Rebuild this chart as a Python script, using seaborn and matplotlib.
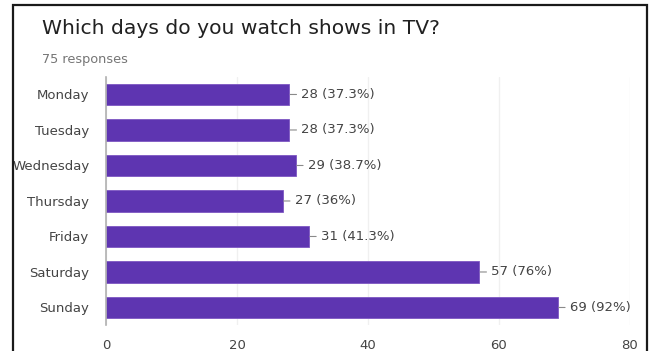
import matplotlib
matplotlib.use("Agg")
import matplotlib.pyplot as plt
import seaborn as sns
import pandas as pd
from matplotlib.patches import Rectangle

days = ["Monday", "Tuesday", "Wednesday", "Thursday", "Friday", "Saturday", "Sunday"]
counts = [28, 28, 29, 27, 31, 57, 69]
pct_labels = ["37.3%", "37.3%", "38.7%", "36%", "41.3%", "76%", "92%"]
x_ticks = [0, 20, 40, 60, 80]
title = "Which days do you watch shows in TV?"
subtitle = "75 responses"

sns.set_style("white")
plt.rcParams["font.family"] = ["DejaVu Sans"]

df = pd.DataFrame({"day": days, "count": counts})

fig = plt.figure(figsize=(6.51, 3.51), dpi=100)
ax = fig.add_axes([0.1628, 0.0734, 0.8049, 0.708])

sns.barplot(data=df, x="count", y="day", orient="h", color="#5e35b1",
            saturation=1, width=0.6, ax=ax, edgecolor="#7e57c2", linewidth=0.6)

ax.set_xlim(0, 80)
ax.set_ylim(6.5, -0.5)
ax.set_xticks(x_ticks)
ax.set_xlabel("")
ax.set_ylabel("")
ax.xaxis.grid(True, color="#f0f0f0", linewidth=1)
ax.set_axisbelow(True)
for s in ["top", "right", "bottom"]:
    ax.spines[s].set_visible(False)
ax.spines["left"].set_color("#b0b0b0")
ax.spines["left"].set_linewidth(1.2)
ax.tick_params(axis="both", length=0, colors="#444444", labelsize=9.5)
ax.tick_params(axis="y", pad=12)
ax.tick_params(axis="x", pad=10)

for i, (c, p) in enumerate(zip(counts, pct_labels)):
    ax.annotate(f"{c} ({p})", xy=(c, i), xytext=(8.5, 0), textcoords="offset points",
                ha="left", va="center", fontsize=9.5, color="#444444",
                arrowprops=dict(arrowstyle="-", color="#8a8a8a", lw=0.8,
                                shrinkA=1, shrinkB=0.5))

fig.text(42 / 651, 1 - 28 / 351, title, fontsize=14.6, color="#212121",
         ha="left", va="center")
fig.text(42 / 651, 1 - 60 / 351, subtitle, fontsize=9.3, color="#757575",
         ha="left", va="center")

fig.patches.append(Rectangle((12.5 / 651, -0.05), (647 - 12.5) / 651, 1 - 5 / 351 + 0.05,
                             transform=fig.transFigure, fill=False,
                             edgecolor="#1a1a1a", linewidth=1.6, clip_on=False))

fig.savefig("out.png", dpi=100)
